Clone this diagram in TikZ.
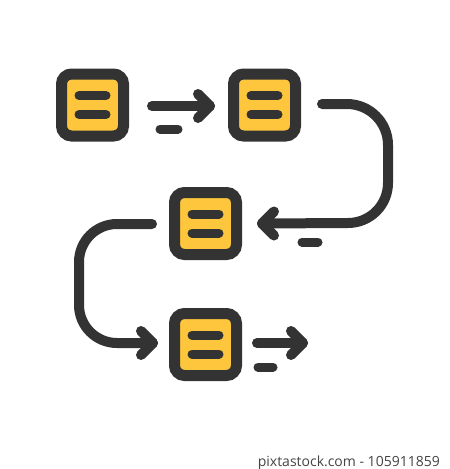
\documentclass[tikz,border=0pt]{standalone}
\usepackage{fontspec}
\newfontfamily\wmfont{Open Sans}
\usetikzlibrary{calc}
\definecolor{ink}{HTML}{333333}
\definecolor{gold}{HTML}{FDC63C}
\definecolor{wmgray}{HTML}{444444}
\begin{document}
\begin{tikzpicture}[x=1pt,y=-1pt,
  card/.style={draw=ink,fill=gold,line width=11pt,rounded corners=10pt,
    minimum width=62pt,minimum height=62pt,inner sep=0pt},
  bar/.style={draw=ink,line width=9pt,line cap=round},
  flow/.style={draw=ink,line width=10pt,line cap=round,line join=round},
  dashbar/.style={draw=ink,line width=9pt,line cap=round}]
\useasboundingbox (0,0) rectangle (450,469);
\fill[white] (0,0) rectangle (450,469);
% cards
\node[card] (b1) at (92.5,105) {};
\node[card] (b2) at (264.5,105) {};
\node[card] (b3) at (205.5,223.5) {};
\node[card] (b4) at (205.5,344.5) {};
\foreach \b in {b1,b2,b3,b4}{
  \draw[bar] ($(\b)+(-13.5,-9.5)$) -- ($(\b)+(13.5,-9.5)$);
  \draw[bar] ($(\b)+(-13.5,9.5)$) -- ($(\b)+(13.5,9.5)$);
}
% arrow 1: b1 -> b2
\coordinate (a1s) at ($(b1)+(59.5,1)$);
\coordinate (a1t) at ($(b2)+(-54.5,1)$);
\draw[flow] (a1s) -- (a1t);
\draw[flow] ($(a1t)+(-12,-12)$) -- (a1t) -- ($(a1t)+(-12,12)$);
\draw[dashbar] ($(b1)+(67.5,24)$) -- ($(b1)+(85.5,24)$);
% arrow 2: b2 -> b3 (right loop)
\coordinate (a2s) at ($(b2)+(57.5,-1)$);
\coordinate (a2t) at ($(b3)+(56.5,0)$);
\draw[flow] (a2s) -- (347,104) arc[start angle=-90,end angle=0,radius=41]
  -- (388,183) arc[start angle=0,end angle=90,radius=40] -- (a2t);
\draw[flow] ($(a2t)+(12,-12)$) -- (a2t) -- ($(a2t)+(12,12)$);
\draw[dashbar] ($(b3)+(96.5,18.5)$) -- ($(b3)+(112.5,18.5)$);
% arrow 3: b3 -> b4 (left loop)
\coordinate (a3s) at ($(b3)+(-53.5,0.5)$);
\coordinate (a3t) at ($(b4)+(-52.5,-1.5)$);
\draw[flow] (a3s) -- (117,224) arc[start angle=-90,end angle=-180,radius=38]
  -- (79,305) arc[start angle=180,end angle=90,radius=38] -- (a3t);
\draw[flow] ($(a3t)+(-12,-12)$) -- (a3t) -- ($(a3t)+(-12,12)$);
% arrow 4: out of b4
\coordinate (a4s) at ($(b4)+(51.5,-1.5)$);
\coordinate (a4t) at ($(b4)+(97.5,-1.5)$);
\draw[flow] (a4s) -- (a4t);
\draw[flow] ($(a4t)+(-12,-12)$) -- (a4t) -- ($(a4t)+(-12,12)$);
\draw[dashbar] ($(b4)+(52.5,22.5)$) -- ($(b4)+(67.5,22.5)$);
% watermark text
\node[anchor=base east,inner sep=0pt,text=wmgray,font=\wmfont\fontsize{14}{16}\selectfont] (wm) at (440,466) {pixtastock.com - 105911859};
\end{tikzpicture}
\end{document}
